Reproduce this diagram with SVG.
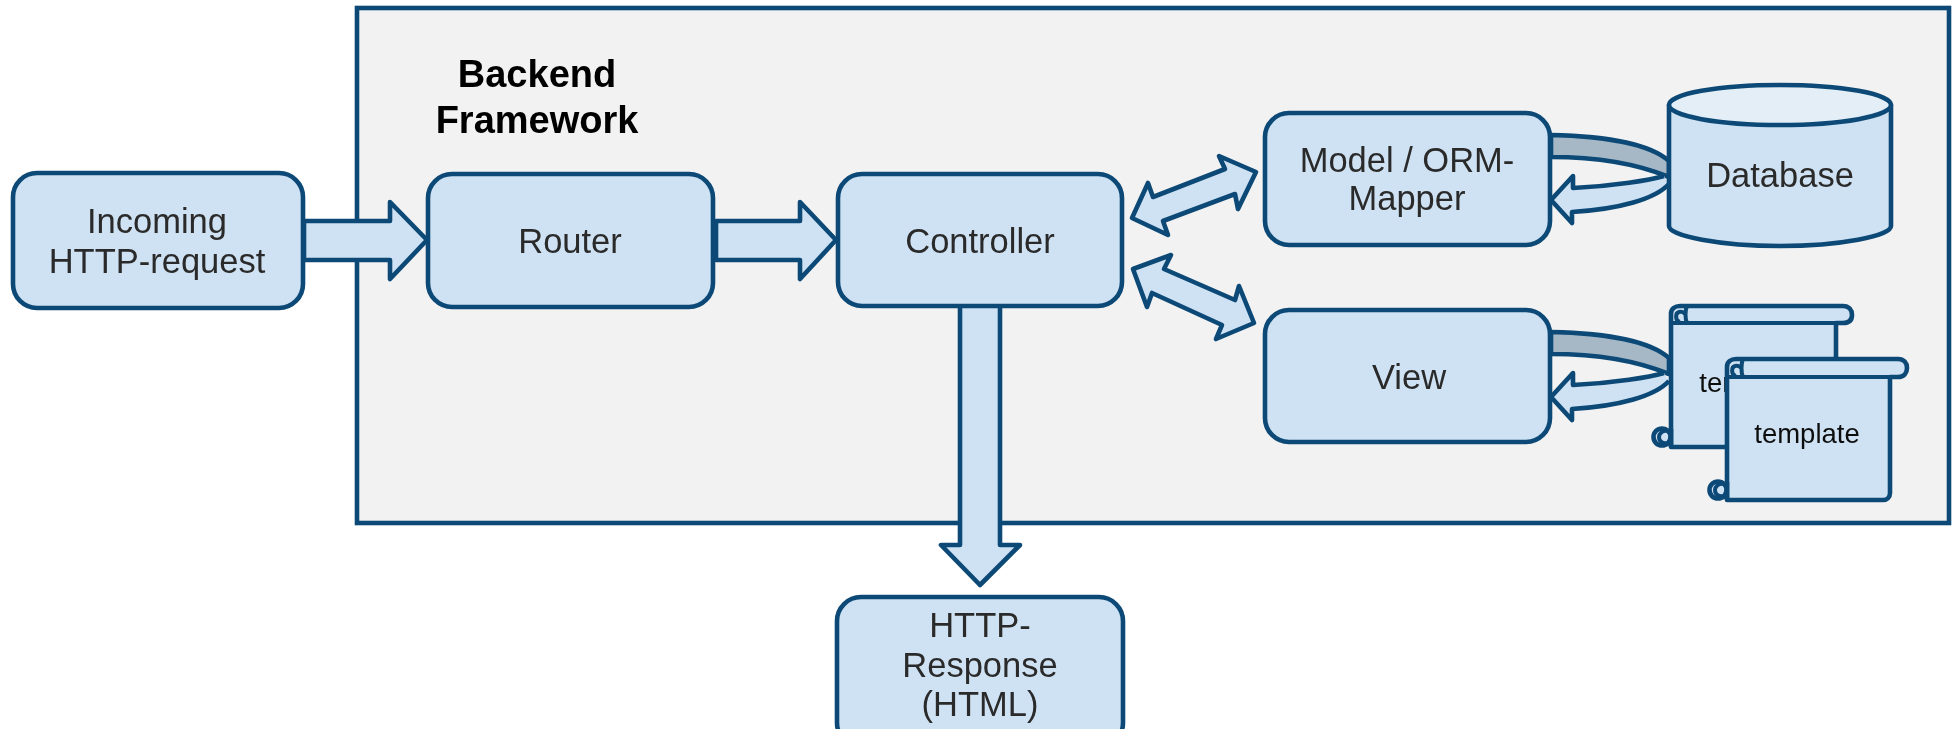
<svg xmlns="http://www.w3.org/2000/svg" width="1957" height="729" viewBox="0 0 1957 729">
<defs>
<style>
.s{fill:#cfe2f3;stroke:#0e4a77;stroke-width:4.6;stroke-linejoin:round}
.n{fill:none;stroke:#0e4a77;stroke-width:4}
.g{fill:#a6b8c6;stroke:#0e4a77;stroke-width:4.6;stroke-linejoin:round}
text{font-family:"Liberation Sans",Arial,sans-serif;font-size:34.5px;fill:#2b2b2b;text-anchor:middle}
.t{font-size:27.5px;fill:#111}
.b{font-size:38px;font-weight:bold;fill:#000}
</style>
<filter id="soft" x="0" y="0" width="100%" height="100%"><feGaussianBlur stdDeviation="0.6"/></filter>
</defs>
<g filter="url(#soft)">
<rect width="1957" height="729" fill="#fff"/>
<g id="backend">
<rect x="357" y="8" width="1592" height="515" fill="#f2f2f2" stroke="#0e4a77" stroke-width="4.6"/>
<text class="b" x="537" y="87">Backend</text>
<text class="b" x="537" y="133">Framework</text>
</g>
<g id="connectors">
<path id="c1" class="s" d="M304 221H390V202L427 240L390 279V260H304Z"/>
<path id="c2" class="s" d="M716 221H800V202L836 240L800 279V260H716Z"/>
<path id="c3" class="s" d="M960 305H1000V545H1020L980 585L941 545H960Z"/>
<path id="c4" class="s" d="M1256 172L1238 209L1235 194L1163 221L1168 235L1132 218L1148 183L1153 197L1225 169L1219 156Z"/>
<path id="c5" class="s" d="M1133 269L1171 255L1164 269L1235 300L1239 286L1254 323L1216 339L1222 325L1152 293L1147 307Z"/>
<g id="c6">
<path class="g" d="M1551 135C1605 136 1650 144 1669 161V177C1640 165 1600 157 1551 157Z"/>
<path class="s" d="M1664 176C1650 180 1615 186 1573 188V176L1551 200L1572 223V212C1620 209 1655 199 1669 184"/>
</g>
<g id="c7">
<path class="g" d="M1551 332C1605 333 1650 341 1669 358V374C1640 362 1600 354 1551 354Z"/>
<path class="s" d="M1664 373C1650 377 1615 383 1573 385V373L1551 397L1572 420V409C1620 406 1655 396 1669 381"/>
</g>
</g>
<g id="incoming"><rect class="s" x="13" y="173" width="290" height="135" rx="24"/><text x="157" y="233">Incoming</text><text x="157" y="273">HTTP-request</text></g>
<g id="router"><rect class="s" x="428" y="174" width="285" height="133" rx="24"/><text x="570" y="253">Router</text></g>
<g id="controller"><rect class="s" x="838" y="174" width="284" height="132" rx="24"/><text x="980" y="253">Controller</text></g>
<g id="response"><rect class="s" x="837" y="597" width="286" height="150" rx="24"/><text x="980" y="637">HTTP-</text><text x="980" y="677">Response</text><text x="980" y="716">(HTML)</text></g>
<g id="model"><rect class="s" x="1265" y="113" width="285" height="132" rx="24"/><text x="1407" y="172">Model / ORM-</text><text x="1407" y="210">Mapper</text></g>
<g id="view"><rect class="s" x="1265" y="310" width="285" height="132" rx="24"/><text x="1409" y="389">View</text></g>
<g id="database">
<path class="s" d="M1669 105V226C1669 236 1720 246 1780 246C1840 246 1891 236 1891 226V105Z"/>
<ellipse cx="1780" cy="105" rx="111" ry="20" fill="#e3eef7" stroke="#0e4a77" stroke-width="4.6"/>
<text x="1780" y="187">Database</text>
</g>
<g id="template1">
<path class="s" d="M1671 447V314C1671 309 1675 306 1680 306H1843C1849 306 1852 310 1852 315C1852 320 1849 323 1843 323H1836V440C1836 444 1833 447 1829 447Z"/>
<path class="n" d="M1671 323H1836M1687 306C1685 310 1685 319 1687 323"/>
<path class="n" d="M1680 322C1675 321 1675 313 1679 312C1682 311 1685 313 1685 315"/>
<circle class="s" cx="1662" cy="437" r="8.5"/>
<path class="n" d="M1668 431C1662 430 1659 434 1659 437C1659 441 1662 444 1668 443"/>
<path d="M1671 429V447" stroke="#0e4a77" stroke-width="4.6"/>
<text class="t" x="1752" y="392">template</text>
</g>
<g id="template2">
<path class="s" d="M1727 500V367C1727 362 1731 359 1736 359H1898C1904 359 1907 363 1907 368C1907 373 1904 377 1898 377H1890V493C1890 497 1887 500 1883 500Z"/>
<path class="n" d="M1727 377H1890M1743 359C1741 363 1741 373 1743 377"/>
<path class="n" d="M1736 376C1731 375 1731 367 1735 366C1738 365 1741 367 1741 369"/>
<circle class="s" cx="1718" cy="490" r="8.5"/>
<path class="n" d="M1724 484C1718 483 1715 487 1715 490C1715 494 1718 497 1724 496"/>
<path d="M1727 482V500" stroke="#0e4a77" stroke-width="4.6"/>
<text class="t" x="1807" y="443">template</text>
</g>
</g>
</svg>
